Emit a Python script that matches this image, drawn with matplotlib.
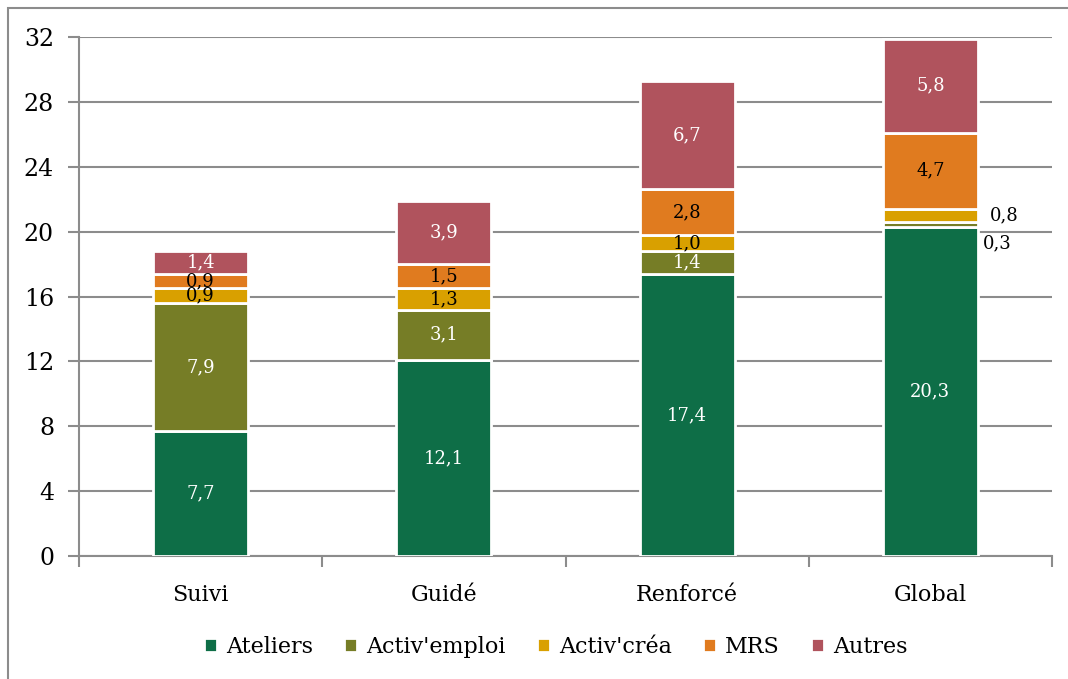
import matplotlib
matplotlib.use('Agg')
import matplotlib.pyplot as plt
import numpy as np
from matplotlib.patches import Rectangle

# Data
categories = ['Suivi', 'Guidé', 'Renforcé', 'Global']
series = ['Ateliers', "Activ'emploi", "Activ'créa", 'MRS', 'Autres']
ateliers = [7.7, 12.1, 17.4, 20.3]
activ_emploi = [7.9, 3.1, 1.4, 0.3]
activ_crea = [0.9, 1.3, 1.0, 0.8]
mrs = [0.9, 1.5, 2.8, 4.7]
autres = [1.4, 3.9, 6.7, 5.8]
values = [ateliers, activ_emploi, activ_crea, mrs, autres]

colors = ['#0E6E47', '#767D26', '#D9A000', '#E07B1F', '#B0535D']
label_colors = ['white', 'white', 'black', 'black', 'white']

plt.rcParams['font.family'] = ['DejaVu Serif']
grey = '#8c8c8c'

fig = plt.figure(figsize=(10.68, 6.79), dpi=100)
ax = fig.add_axes([0.074, 0.181, 0.911, 0.7645])

# outer frame (right and bottom edges lie outside the image)
fig.patches.append(Rectangle((8 / 1068, -0.1), 1.2, 1 - 8 / 679 + 0.1,
                             transform=fig.transFigure, fill=False,
                             edgecolor=grey, linewidth=1.5))

x = np.arange(len(categories))
bottom = np.zeros(len(categories))
for i, (name, vals) in enumerate(zip(series, values)):
    vals = np.array(vals)
    ax.bar(x, vals, width=0.39, bottom=bottom, color=colors[i],
           edgecolor='white', linewidth=2, label=name, zorder=3)
    for j, v in enumerate(vals):
        txt = f'{v:.1f}'.replace('.', ',')
        yc = bottom[j] + v / 2
        if categories[j] == 'Global' and v < 1:
            dy = -14 if i == 1 else 0
            dx = 4 if i == 1 else 9
            ax.annotate(txt, (x[j] + 0.195, yc), xytext=(dx, dy),
                        textcoords='offset points', ha='left', va='center',
                        fontsize=13, color='black', zorder=4)
        else:
            ax.text(x[j], yc, txt, ha='center', va='center', fontsize=13,
                    color=label_colors[i], zorder=4)
    bottom += vals

ax.set_xlim(-0.5, 3.5)
ax.set_ylim(0, 32)
ax.set_yticks(np.arange(0, 33, 4))
ax.yaxis.grid(True, color=grey, linewidth=1.5, zorder=0)
ax.set_xticks(x)
ax.set_xticklabels(categories)
ax.set_xticks(np.arange(-0.5, 4, 1), minor=True)
ax.tick_params(axis='x', which='major', length=0, pad=20, labelsize=16)
ax.tick_params(axis='x', which='minor', length=8, width=1.5, color=grey,
               direction='out')
ax.tick_params(axis='y', length=8, width=1.5, color=grey, direction='out',
               labelsize=17, pad=10)
for s in ['top', 'right']:
    ax.spines[s].set_visible(False)
for s in ['left', 'bottom']:
    ax.spines[s].set_color(grey)
    ax.spines[s].set_linewidth(1.5)

ax.legend(loc='upper center', bbox_to_anchor=(0.49, -0.115), ncol=5,
          frameon=False, fontsize=16, handlelength=0.6, handleheight=0.6,
          handletextpad=0.4, columnspacing=1.4)

fig.savefig('out.png', dpi=100)
